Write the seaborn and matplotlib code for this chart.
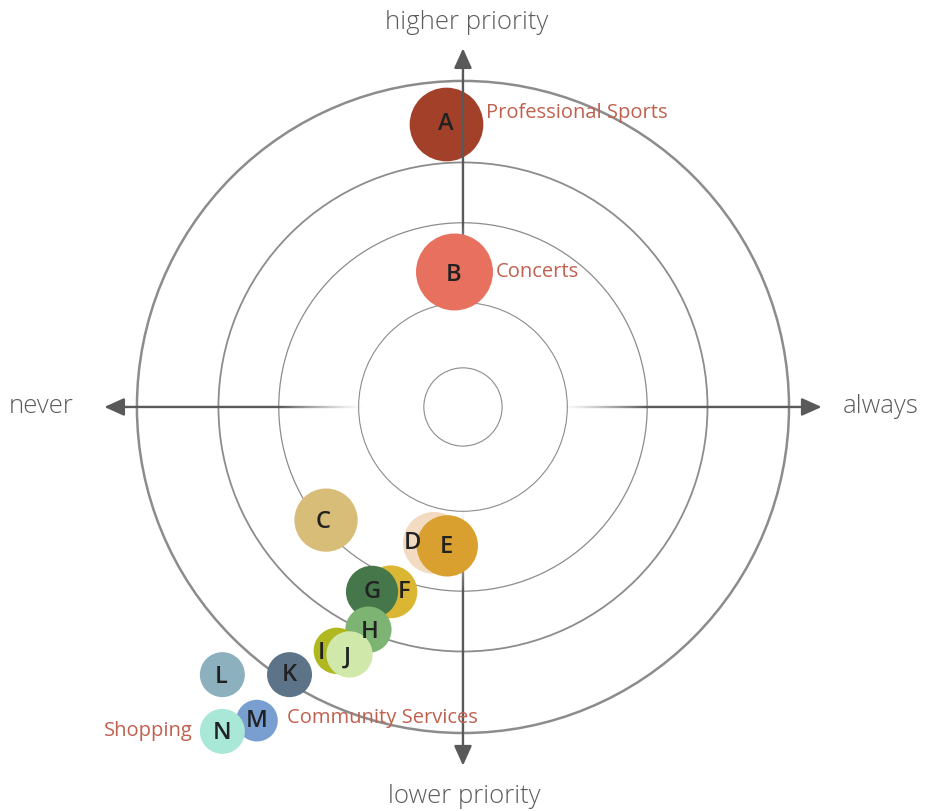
import numpy as np
import pandas as pd
import seaborn as sns
import matplotlib.pyplot as plt
from matplotlib.patches import Circle
from matplotlib.collections import LineCollection

# data: unit = 1/10 of outer ring radius
letters = list('ABCDEFGHIJKLMN')
freq = [-0.52, -0.26, -4.20, -0.89, -0.48, -2.21, -2.79, -2.90, -3.87, -3.48, -5.32, -7.38, -6.32, -7.38]
prio = [8.68, 4.14, -3.47, -4.17, -4.26, -5.67, -5.67, -6.83, -7.48, -7.59, -8.21, -8.21, -9.62, -9.95]
radius = [1.13, 1.18, 0.97, 0.95, 0.94, 0.81, 0.80, 0.71, 0.71, 0.71, 0.69, 0.69, 0.64, 0.69]
colors = ['#a2402a', '#e8705f', '#d8bd78', '#f2dbc0', '#d9a02f', '#dab632', '#46774b', '#7db474',
          '#b0b81f', '#d0e8a9', '#5d7488', '#8cb0bd', '#789fcf', '#a9e7d7']
names = {'A': 'Professional Sports', 'B': 'Concerts', 'M': 'Community Services', 'N': 'Shopping'}
rings = [1.2, 3.2, 5.65, 7.5, 10]

sns.set_theme(style='white')
plt.rcParams['font.family'] = ['Open Sans', 'DejaVu Sans']

fig = plt.figure(figsize=(9.38, 8.11), dpi=100)
ax = fig.add_axes([0, 0, 1, 1])
ax.set_xlim(-14.2, 14.57)
ax.set_ylim(-12.39, 12.48)
ax.set_aspect('equal')
ax.axis('off')

#1 rings
for r, lw in zip(rings, [0.8, 0.8, 0.9, 1.3, 1.8]):
    ax.add_patch(Circle((0, 0), r, fill=False, ec='#8c8c8c', lw=lw, zorder=1))

#2 axes arrows, fading toward the centre
axc = '#595959'
fade_out, fade_in, tip = 5.65, 3.0, 11.0
for dx, dy in [(1, 0), (-1, 0), (0, 1), (0, -1)]:
    t = np.linspace(fade_in, fade_out, 80)
    segs = [[(dx * a, dy * a), (dx * b, dy * b)] for a, b in zip(t[:-1], t[1:])]
    alph = np.linspace(0, 1, len(segs)) ** 1.3
    cols = [(0.35, 0.35, 0.35, a) for a in alph]
    ax.add_collection(LineCollection(segs, colors=cols, linewidths=1.7, zorder=2,
                                     capstyle='butt'))
    ax.annotate('', xy=(dx * tip, dy * tip), xytext=(dx * fade_out, dy * fade_out),
                arrowprops=dict(arrowstyle='-|>,head_length=1.0,head_width=0.45', color=axc,
                                lw=1.7, shrinkA=0, shrinkB=0), zorder=2)

#3 bubbles
df = pd.DataFrame({'letter': letters, 'freq': freq, 'prio': prio, 'radius': radius})
ppu = fig.dpi * fig.get_figwidth() / (14.57 + 14.2) * 72 / fig.dpi
sizes = {l: (2 * r * ppu) ** 2 for l, r in zip(letters, radius)}
pal = dict(zip(letters, colors))
for sub, z in [(df[df.letter == 'A'], 1.5), (df[df.letter != 'A'], 3)]:
    sns.scatterplot(data=sub, x='freq', y='prio', hue='letter', size='letter', palette=pal,
                    sizes=sizes, linewidth=0, legend=False, ax=ax, zorder=z)

# letter nudges (pixels) where bubbles overlap
nudge = {'D': (-22, 0), 'F': (13, 0), 'I': (-15, 2), 'J': (-2, 3), 'H': (1, 2), 'N': (0, 2),
         'L': (-1, 2), 'C': (-3, 2), 'B': (-1, 3), 'E': (-1, 1)}
for l, x, y in zip(letters, freq, prio):
    nx, ny = nudge.get(l, (0, 0))
    ax.annotate(l, (x, y), xytext=(nx * 0.72, -ny * 0.72), textcoords='offset points',
                ha='center', va='center', fontsize=17, fontweight='semibold',
                color='#222222', zorder=4)

#4 callouts
for l, x, y, r in zip(letters, freq, prio, radius):
    if l not in names:
        continue
    if l == 'N':
        ax.annotate(names[l], (x - r, y), xytext=(-5, 0), textcoords='offset points',
                    ha='right', va='center', fontsize=14.5, color='#c0604e', zorder=4)
    else:
        dx = 6.5 if l == 'M' else 2
        dy = 8 if l == 'A' else (2 if l == 'M' else 0)
        ax.annotate(names[l], (x + r, y), xytext=(dx, dy), textcoords='offset points',
                    ha='left', va='center', fontsize=14.5, color='#c0604e', zorder=4)

#5 axis labels
lab = dict(fontsize=18.5, color='#5c5c5c', fontweight='light', va='center')
ax.text(-12.95, 0, 'never', ha='center', **lab)
ax.text(12.82, 0, 'always', ha='center', **lab)
ax.text(0.1, 11.8, 'higher priority', ha='center', **lab)
ax.text(0.05, -11.95, 'lower priority', ha='center', **lab)

fig.savefig('out.png', dpi=100)
